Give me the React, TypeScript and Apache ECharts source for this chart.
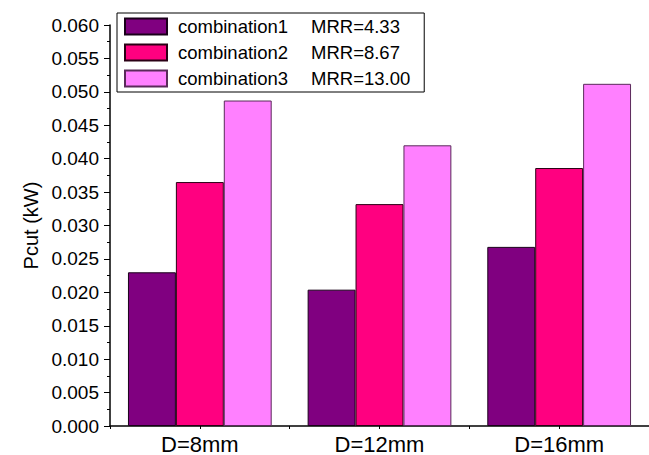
import React, { useEffect, useRef } from "react";
import * as echarts from "echarts";

const categories = ["D=8mm", "D=12mm", "D=16mm"];
const seriesNames = ["combination1", "combination2", "combination3"];
const mrrLabels = ["MRR=4.33", "MRR=8.67", "MRR=13.00"];
const combination1 = [0.0230, 0.0204, 0.0268];
const combination2 = [0.0365, 0.0332, 0.0386];
const combination3 = [0.0487, 0.0420, 0.0512];
const colors = ["#800080", "#FF0080", "#FF80FF"];
const borderColors = ["#1a001a", "#2a0015", "#5a2a5a"];

export default function App() {
  const ref = useRef<HTMLDivElement>(null);
  useEffect(() => {
    if (!ref.current) return;
    const chart = echarts.init(ref.current, null, { renderer: "svg" });
    const data = [combination1, combination2, combination3];
    const font = "Liberation Sans, Arial, sans-serif";
    chart.setOption({
      animation: false,
      textStyle: { fontFamily: font },
      grid: { left: 110, right: 0, top: 25, bottom: 28 },
      legend: {
        orient: "vertical",
        left: 117,
        top: 13,
        padding: [4, 14, 4, 7],
        borderColor: "#000",
        borderWidth: 1,
        itemWidth: 42,
        itemHeight: 16,
        itemGap: 7,
        icon: "rect",
        selectedMode: false,
        data: seriesNames,
        formatter: (name: string) => {
          const i = seriesNames.indexOf(name);
          return `{a|${name}}{b|${mrrLabels[i]}}`;
        },
        textStyle: {
          fontFamily: font,
          fontSize: 18.5,
          color: "#000",
          lineHeight: 16,
          rich: {
            a: { fontFamily: font, fontSize: 18.5, color: "#000", width: 133, padding: [0, 0, 0, 6], lineHeight: 16 },
            b: { fontFamily: font, fontSize: 18.5, color: "#000", lineHeight: 16 },
          },
        },
      },
      xAxis: [
        {
          type: "category",
          data: categories,
          axisLine: { lineStyle: { color: "#000", width: 1.5 } },
          axisTick: { show: true, length: 3, lineStyle: { color: "#000" } },
          axisLabel: { color: "#000", fontSize: 22, margin: 7, fontFamily: font },
        },
        {
          type: "category",
          data: categories,
          position: "bottom",
          axisLine: { show: false },
          axisTick: { show: true, alignWithLabel: true, length: 3, lineStyle: { color: "#000" } },
          axisLabel: { show: false },
        },
      ],
      yAxis: {
        type: "value",
        min: 0,
        max: 0.06,
        interval: 0.005,
        name: "Pcut (kW)",
        nameLocation: "middle",
        nameGap: 66,
        nameTextStyle: { color: "#000", fontSize: 20, fontFamily: font },
        axisLine: { show: true, lineStyle: { color: "#000", width: 1.5 } },
        axisTick: { show: true, length: 6, lineStyle: { color: "#000" } },
        minorTick: { show: true, splitNumber: 2, length: 3, lineStyle: { color: "#000" } },
        splitLine: { show: false },
        axisLabel: {
          color: "#000",
          fontSize: 19,
          margin: 11,
          fontFamily: font,
          formatter: (v: number) => v.toFixed(3),
        },
      },
      series: seriesNames.map((name, i) => ({
        name,
        type: "bar",
        data: data[i],
        barGap: "0%",
        barCategoryGap: "20%",
        itemStyle: { color: colors[i], borderColor: borderColors[i], borderWidth: 1 },
      })),
    });
    return () => chart.dispose();
  }, []);
  return (
    <div
      ref={ref}
      style={{ position: "absolute", left: 0, top: 0, width: 649, height: 455 }}
    />
  );
}
